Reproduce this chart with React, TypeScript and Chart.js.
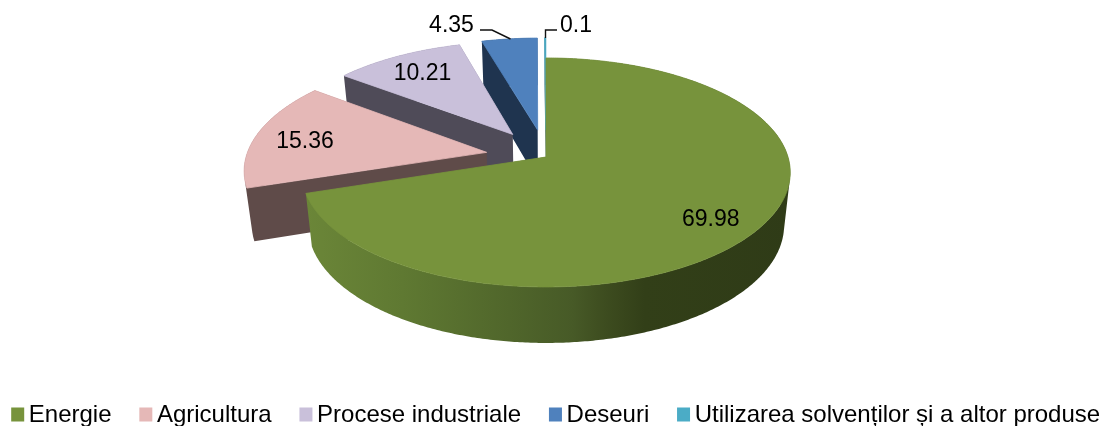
import React, { useEffect, useRef } from "react";
import { Chart, registerables } from "chart.js";

Chart.register(...registerables);

const categories = ["Energie", "Agricultura", "Procese industriale", "Deseuri", "Utilizarea solvenților și a altor produse"];
const values = [69.98, 15.36, 10.21, 4.35, 0.1];
const topColors = ["#77933c", "#e5b8b7", "#c9c0da", "#4f81bd", "#4bacc6"];
const wallColors = ["#4f652b", "#5f4b49", "#4f4b58", "#1f344f", "#1e4a56"];
const explosion = [0, 0.25, 0.25, 0.25, 0.25];
const sliceRadius = [1, 0.994, 0.985, 0.987, 0.987];
const greenWallStops: [number, string][] = [
  [0, "#6b8638"],
  [0.2, "#5f7932"],
  [0.42, "#50662b"],
  [0.55, "#475a27"],
  [0.62, "#3d4c1f"],
  [0.7, "#323f18"],
  [1, "#2f3b17"],
];
const labelAnchors: [number, number][] = [
  [710.7, 225.5],
  [305, 147.5],
  [422.5, 79.5],
  [451.5, 32],
  [576, 32],
];
const leaderLines: [number, number][][] = [
  [],
  [],
  [],
  [[480, 30], [492, 30], [510.5, 39]],
  [[557, 30], [545.5, 30], [545.5, 38]],
];

const FONT_FAMILY = '"Liberation Sans", Arial, sans-serif';
const CX = 546, CY = 157, RX = 242, RY = 112.4, K = 0.135;
const BOTTOM_SCALE = 0.975;

type P = { x: number; y: number; v: number };

const project = (u: number, v: number): P => {
  const w = 1 + K * v;
  return { x: CX + (RX * u) / w, y: CY - (RY * v) / w, v };
};
const lower = (p: P): P => ({
  x: CX + (p.x - CX) * BOTTOM_SCALE,
  y: p.y + 52 - 4 * p.v,
  v: p.v,
});

const pie3d = {
  id: "pie3d",
  beforeDatasetsDraw(chart: any) {
    const ctx: CanvasRenderingContext2D = chart.ctx;
    const arcs = chart.getDatasetMeta(0).data;
    // back to front: smallest (rear) slices first, front slice last
    for (let i = arcs.length - 1; i >= 0; i--) {
      const { startAngle, endAngle } = arcs[i];
      const a0 = startAngle + Math.PI / 2;
      const a1 = endAngle + Math.PI / 2;
      const mid = (a0 + a1) / 2;
      const du = explosion[i] * Math.sin(mid);
      const dv = explosion[i] * Math.cos(mid);
      const r = sliceRadius[i];
      const pts: P[] = [project(du, dv)];
      const n = Math.max(2, Math.ceil((a1 - a0) / 0.01));
      for (let s = 0; s <= n; s++) {
        const a = a0 + ((a1 - a0) * s) / n;
        pts.push(project(du + r * Math.sin(a), dv + r * Math.cos(a)));
      }
      let wall: any = wallColors[i];
      if (i === 0) {
        const g = ctx.createLinearGradient(CX - 240, 0, CX + 244, 0);
        greenWallStops.forEach(([o, c]) => g.addColorStop(o, c));
        wall = g;
      }
      ctx.save();
      // all wall quads go in one path with one winding, so there are no seams
      ctx.beginPath();
      for (let j = 0; j < pts.length; j++) {
        const a = pts[j];
        const b = pts[(j + 1) % pts.length];
        const la = lower(a);
        const lb = lower(b);
        const quad = [a, b, lb, la];
        let area = 0;
        quad.forEach((q, m) => {
          const t = quad[(m + 1) % 4];
          area += q.x * t.y - t.x * q.y;
        });
        if (area < 0) quad.reverse();
        quad.forEach((q, m) => (m ? ctx.lineTo(q.x, q.y) : ctx.moveTo(q.x, q.y)));
        ctx.closePath();
      }
      ctx.fillStyle = wall;
      ctx.fill("nonzero");

      ctx.beginPath();
      pts.forEach((p, j) => (j ? ctx.lineTo(p.x, p.y) : ctx.moveTo(p.x, p.y)));
      ctx.closePath();
      ctx.fillStyle = topColors[i];
      ctx.strokeStyle = topColors[i];
      ctx.lineWidth = 0.8;
      ctx.fill();
      ctx.stroke();
      ctx.restore();
    }

    // data labels and their leader lines
    ctx.save();
    ctx.fillStyle = "#000";
    ctx.strokeStyle = "#111";
    ctx.lineWidth = 1.4;
    ctx.font = `23px ${FONT_FAMILY}`;
    ctx.textAlign = "center";
    ctx.textBaseline = "alphabetic";
    values.forEach((val, i) => {
      ctx.fillText(String(val), labelAnchors[i][0], labelAnchors[i][1]);
      const line = leaderLines[i];
      if (line.length) {
        ctx.beginPath();
        line.forEach(([x, y], j) => (j ? ctx.lineTo(x, y) : ctx.moveTo(x, y)));
        ctx.stroke();
      }
    });
    ctx.restore();

    // legend
    ctx.save();
    ctx.font = `24px ${FONT_FAMILY}`;
    ctx.textAlign = "left";
    ctx.textBaseline = "alphabetic";
    let x = 11.2;
    categories.forEach((name, i) => {
      ctx.fillStyle = topColors[i];
      ctx.fillRect(x, 407.5, 13, 14);
      ctx.fillStyle = "#000";
      ctx.fillText(name, x + 17.6, 422);
      x += 17.6 + ctx.measureText(name).width + 27.8;
    });
    ctx.restore();
    return false;
  },
};

export default function App() {
  const ref = useRef<HTMLCanvasElement>(null);
  useEffect(() => {
    document.body.style.margin = "0";
    const chart = new Chart(ref.current as HTMLCanvasElement, {
      type: "pie",
      data: {
        labels: categories,
        datasets: [{ data: values, backgroundColor: topColors }],
      },
      options: {
        animation: false,
        responsive: false,
        events: [],
        plugins: { legend: { display: false }, tooltip: { enabled: false } },
      },
      plugins: [pie3d],
    } as any);
    return () => chart.destroy();
  }, []);
  return <canvas ref={ref} width={1102} height={426} style={{ display: "block" }} />;
}
